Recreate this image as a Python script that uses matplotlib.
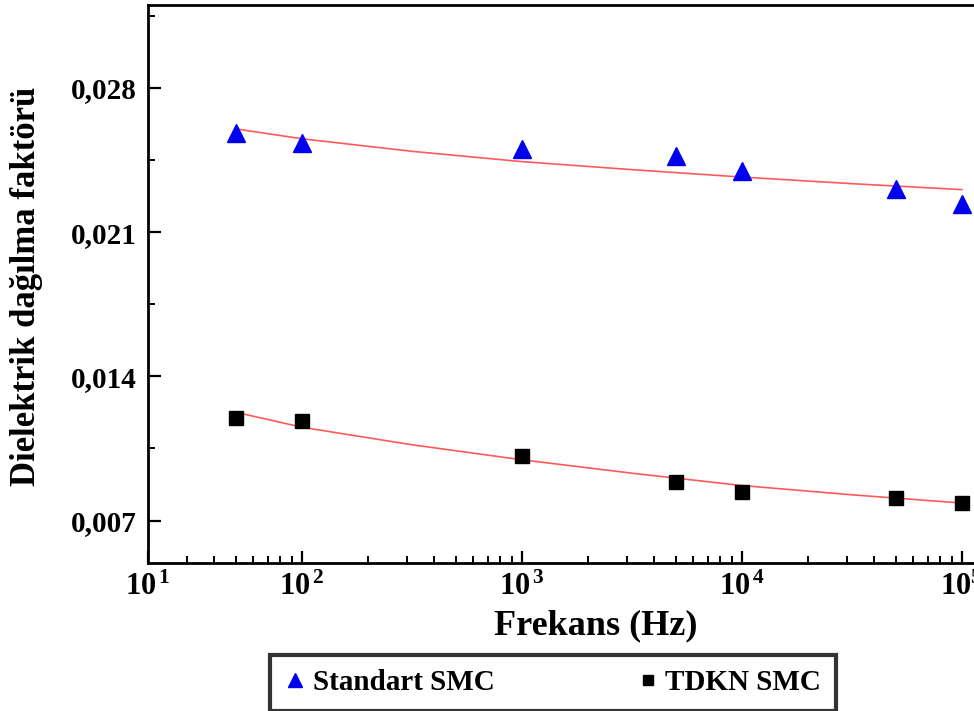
import numpy as np
import matplotlib
matplotlib.use('Agg')
import matplotlib.pyplot as plt
from matplotlib.ticker import FixedLocator, FixedFormatter, MultipleLocator, FuncFormatter

plt.rcParams['font.family'] = ['Liberation Serif', 'DejaVu Serif']
plt.rcParams['font.weight'] = 'bold'
plt.rcParams['mathtext.fontset'] = 'custom'
plt.rcParams['mathtext.rm'] = 'Liberation Serif:bold'
plt.rcParams['mathtext.bf'] = 'Liberation Serif:bold'
plt.rcParams['mathtext.it'] = 'Liberation Serif:bold'

# measured points
freq = [50, 100, 1000, 5000, 10000, 50000, 100000]
standart_smc = [0.02582, 0.02534, 0.02505, 0.02471, 0.02398, 0.02311, 0.02238]
tdkn_smc = [0.01198, 0.01183, 0.01014, 0.00888, 0.00840, 0.00811, 0.00786]

# fitted curves
fit_freq = [50, 100, 316, 1000, 3160, 10000, 31600, 100000]
fit_standart = [0.02601, 0.02553, 0.02492, 0.02442, 0.02403, 0.02367, 0.02335, 0.02306]
fit_tdkn = [0.01226, 0.01153, 0.01068, 0.00995, 0.00930, 0.00870, 0.00825, 0.00785]

xtick_pos = [20, 100, 1000, 10000, 100000]
xtick_labels = [r'$10^{\,1}$', r'$10^{\,2}$', r'$10^{\,3}$', r'$10^{\,4}$', r'$10^{5}$']

fig = plt.figure(figsize=(9.74, 7.11), dpi=100)
ax = fig.add_axes([148 / 974, 148 / 711, 832 / 974, 558 / 711])

ax.plot(fit_freq, fit_standart, color='#ff5a5a', lw=1.2, zorder=2)
ax.plot(fit_freq, fit_tdkn, color='#ff5a5a', lw=1.2, zorder=2)
ax.plot(freq, standart_smc, linestyle='none', marker='^', markersize=13,
        color='#0000f0', label='Standart SMC', zorder=3)
ax.plot(freq, tdkn_smc, linestyle='none', marker='s', markersize=10,
        color='black', label='TDKN SMC', zorder=3)

ax.set_xscale('log')
ax.set_xlim(20, 1.21e5)
ax.set_ylim(0.00494, 0.03202)

ax.xaxis.set_major_locator(FixedLocator(xtick_pos))
ax.xaxis.set_major_formatter(FixedFormatter(xtick_labels))
minor = [m * 10 ** e for e in range(1, 5) for m in range(2, 10) if m * 10 ** e > 20]
ax.xaxis.set_minor_locator(FixedLocator(minor))
ax.xaxis.set_minor_formatter(FixedFormatter([''] * len(minor)))

ax.yaxis.set_major_locator(MultipleLocator(0.007))
ax.yaxis.set_minor_locator(MultipleLocator(0.0035))
ax.yaxis.set_major_formatter(FuncFormatter(lambda v, p: f'{v:.3f}'.replace('.', ',')))

ax.tick_params(axis='both', which='major', direction='in', length=9, width=1.6,
               top=False, right=False)
ax.tick_params(axis='both', which='minor', direction='in', length=5, width=1.4,
               top=False, right=False)
ax.tick_params(axis='x', which='major', pad=7, labelsize=22)
ax.tick_params(axis='y', which='major', pad=8, labelsize=21)

for s in ['left', 'bottom', 'top']:
    ax.spines[s].set_linewidth(2)
ax.spines['right'].set_visible(False)

fig.text(27 / 974, 1 - 286 / 711, 'Dielektrik dağılma faktörü', rotation=90,
         ha='center', va='center', fontsize=25, fontweight='bold')
fig.text(596 / 974, 1 - 626 / 711, 'Frekans (Hz)', ha='center', va='center',
         fontsize=26, fontweight='bold')

leg = fig.legend(loc='center', bbox_to_anchor=(553 / 974, 1 - 683 / 711), ncol=2,
                 fontsize=21, frameon=True, fancybox=False, edgecolor='black',
                 handlelength=0.7, handletextpad=0.25, columnspacing=4.9,
                 borderpad=0.5, markerscale=0.75)
leg.get_frame().set_linewidth(3)

fig.savefig('out.png', dpi=100)
